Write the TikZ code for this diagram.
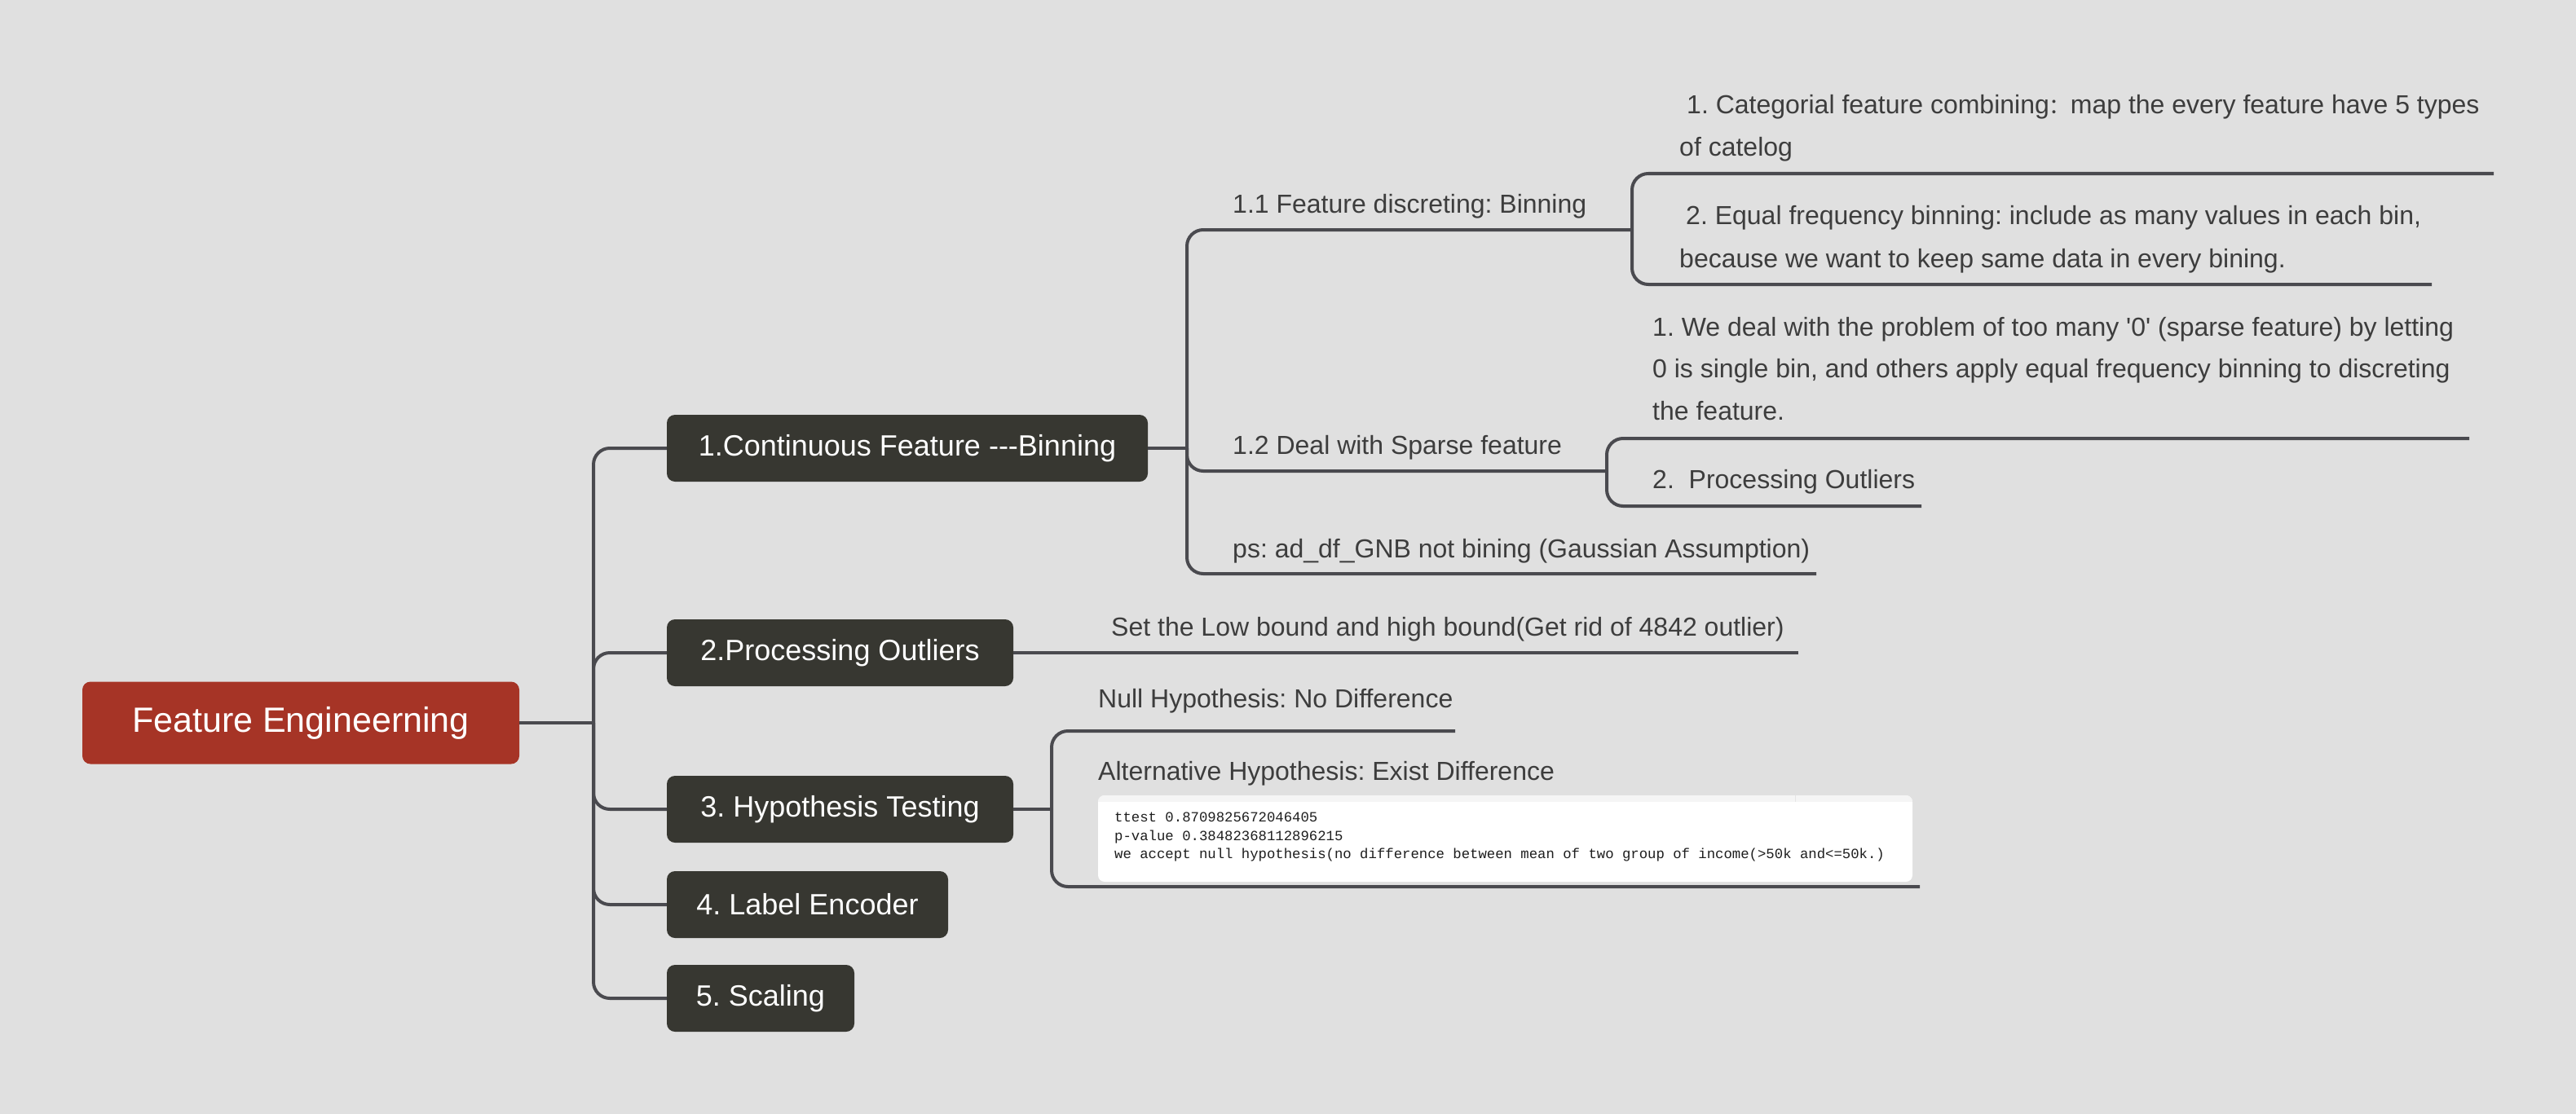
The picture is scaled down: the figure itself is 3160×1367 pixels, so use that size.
\documentclass[tikz,border=0pt]{standalone}
\usepackage{fontspec}
\setmainfont{Liberation Sans}
\setmonofont{Liberation Mono}
\newfontfamily\cjk{Noto Sans CJK SC}
\definecolor{bgc}{HTML}{E0E0E0}
\definecolor{linec}{HTML}{4A4A4F}
\definecolor{boxc}{HTML}{373731}
\definecolor{rootc}{HTML}{A63426}
\definecolor{txtc}{HTML}{3D3D3D}
\definecolor{codec}{HTML}{1E1E1E}
\tikzset{
  conn/.style={draw=linec, line width=4pt, rounded corners=20pt},
  rootbox/.style={fill=rootc, rounded corners=10pt, text=white, minimum height=101pt, minimum width=536pt, inner sep=0pt, font=\fontsize{43}{50}\selectfont},
  mainbox/.style={fill=boxc, rounded corners=10pt, text=white, minimum height=82pt, inner sep=0pt, font=\fontsize{36}{42}\selectfont},
  leaf/.style={anchor=base west, inner sep=0pt, text=txtc, font=\fontsize{32}{38}\selectfont},
  codeline/.style={anchor=base west, inner sep=0pt, text=codec, font=\ttfamily\fontsize{17.3}{22}\selectfont},
}
\frenchspacing
\begin{document}
\frenchspacing
\begin{tikzpicture}[x=1pt, y=-1pt]
\useasboundingbox[fill=bgc] (0,0) rectangle (3160,1367);

% root and main boxes
\node[rootbox] (root) at (369,887) {Feature Engineerning};
\node[mainbox, minimum width=590pt] (b1) at (1113,550) {1.Continuous Feature {-}{-}{-}Binning};
\node[mainbox, minimum width=425pt] (b2) at (1030.5,801) {2.Processing Outliers};
\node[mainbox, minimum width=425pt] (b3) at (1030.5,993) {3. Hypothesis Testing};
\node[mainbox, minimum width=345pt] (b4) at (990.5,1110) {4. Label Encoder};
\node[mainbox, minimum width=230pt] (b5) at (933,1225) {5. Scaling};

% trunk
\coordinate (t0) at (728,887);
\draw[conn] (root.east) -- (t0);
\foreach \b in {b1,b2,b3,b4,b5} { \draw[conn] (t0) |- (\b.west); }

% branch 1
\coordinate (j1) at (1456,550);
\draw[conn] (b1.east) -- (j1);
\coordinate (e11) at (2002,282);
\coordinate (e12) at (1971,578);
\coordinate (eps) at (2228,704);
\draw[conn] (j1) |- (e11);
\draw[conn] (j1) |- (e12);
\draw[conn] (j1) |- (eps);
\node[leaf] (n11) at (1512,261) {1.1 Feature discreting: Binning};
\node[leaf] (n12) at (1512,557) {1.2 Deal with Sparse feature};
\node[leaf] (nps) at (1512,684) {ps: ad\_df\_GNB not bining (Gaussian Assumption)};

% level 3 under 1.1
\coordinate (e111) at (3059,213);
\coordinate (e112) at (2983,349);
\draw[conn] (e11) |- (e111);
\draw[conn] (e11) |- (e112);
\node[leaf] (n111a) at (2069,140) {1. Categorial feature combining{\cjk\fontsize{26}{30}\selectfont ：}map the every feature have 5 types};
\node[leaf] (n111b) at (2060,192) {of catelog};
\node[leaf] (n112a) at (2068,275) {2. Equal frequency binning: include as many values in each bin,};
\node[leaf] (n112b) at (2060,328) {because we want to keep same data in every bining.};

% level 3 under 1.2
\coordinate (e121) at (3029,538);
\coordinate (e122) at (2357,621);
\draw[conn] (e12) |- (e121);
\draw[conn] (e12) |- (e122);
\node[leaf] (n121a) at (2027,412) {1. We deal with the problem of too many \textquotesingle0\textquotesingle{} (sparse feature) by letting};
\node[leaf] (n121b) at (2027,463) {0 is single bin, and others apply equal frequency binning to discreting};
\node[leaf] (n121c) at (2027,515) {the feature.};
\node[leaf] (n122) at (2027,599) {2.\ \ Processing Outliers};

% branch 2
\coordinate (e2) at (2206,801);
\draw[conn] (b2.east) -- (e2);
\node[leaf] (n2) at (1363,780) {Set the Low bound and high bound(Get rid of 4842 outlier)};

% branch 3
\coordinate (j3) at (1290,993);
\draw[conn] (b3.east) -- (j3);
\coordinate (e31) at (1785,897);
\coordinate (e32) at (2355,1088);
\draw[conn] (j3) |- (e31);
\draw[conn] (j3) |- (e32);
\node[leaf] (n31) at (1347,868) {Null Hypothesis: No Difference};
\node[leaf] (n32) at (1347,957) {Alternative Hypothesis: Exist Difference};

% code block
\begin{scope}
\fill[white, rounded corners=8pt] (1347,976) rectangle (2346,1082);
\fill[white!96!black, rounded corners=8pt] (1347,976) rectangle (2346,992);
\fill[white] (1347,984) rectangle (2346,993);
\draw[white!90!black, line width=0.8pt] (2202,976) -- (2202,984);
\end{scope}
\node[codeline] (c1) at (1367,1008) {ttest 0.8709825672046405};
\node[codeline] (c2) at (1367,1031) {p-value 0.38482368112896215};
\node[codeline] (c3) at (1367,1053) {we accept null hypothesis(no difference between mean of two group of income(>50k and<=50k.)};
\end{tikzpicture}
\end{document}
